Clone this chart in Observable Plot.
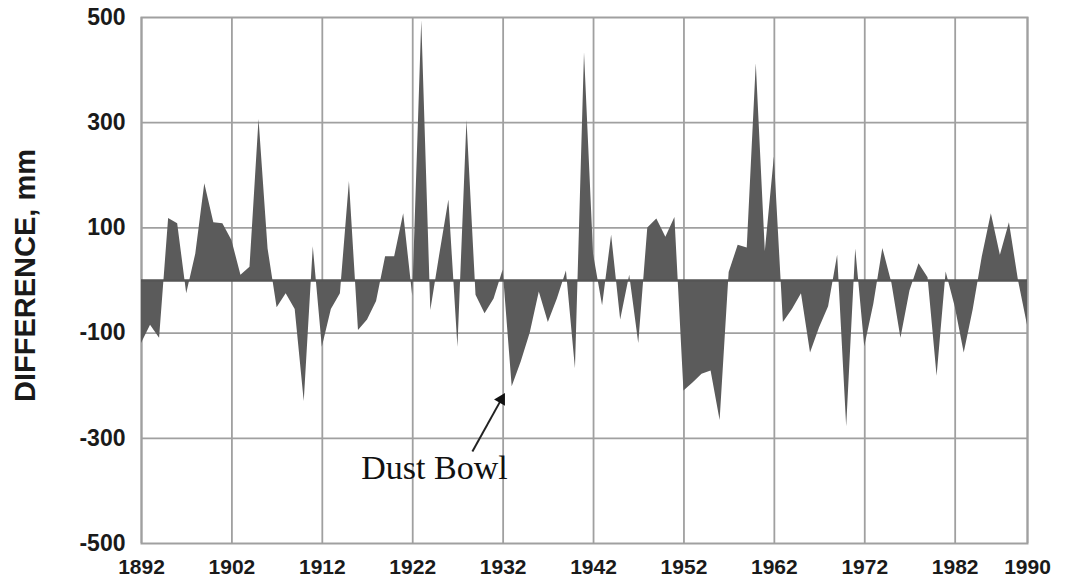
<!DOCTYPE html>
<html>
<head>
<meta charset="utf-8">
<script src="https://cdn.jsdelivr.net/npm/d3@7"></script>
<script src="https://cdn.jsdelivr.net/npm/@observablehq/plot@0.6"></script>
<style>
  html, body { margin: 0; padding: 0; background: #ffffff; }
  #chart svg { display: block; }
</style>
</head>
<body>
<div id="chart"></div>
<script>
// ---- Data ----
const firstYear = 1892;
const differences = [
  -120, -85, -110, 118, 108, -25, 50, 184,            // 1892-1899
  110, 108, 76, 10, 25, 306, 60, -52, -25, -55,       // 1900-1909
  -230, 64, -127, -55, -25, 188, -95, -75, -40, 45,   // 1910-1919
  45, 127, -30, 494, -57, 50, 153, -127, 304, -28,    // 1920-1929
  -63, -35, 20, -202, -155, -100, -22, -80, -35, 18,  // 1930-1939
  -168, 433, 50, -48, 86, -75, 10, -120, 100, 117,    // 1940-1949
  82, 120, -210, -195, -178, -172, -266, 15, 67, 62,  // 1950-1959
  412, 55, 235, -80, -55, -25, -138, -90, -50, 48,    // 1960-1969
  -278, 60, -126, -45, 61, -5, -110, -20, 32, 5,      // 1970-1979
  -182, 16, -50, -138, -55, 45, 127, 48, 110, 0,      // 1980-1989
  -85                                                 // 1990
];
const xTickYears = [1892, 1902, 1912, 1922, 1932, 1942, 1952, 1962, 1972, 1982, 1990];
const yTickValues = [-500, -300, -100, 100, 300, 500];
const yGridValues = [-300, -100, 100, 300];
const yTitle = "DIFFERENCE, mm";
const noteText = ["Dust Bowl"];
const noteTextYear = [1924.4];
const noteTextValue = [-357];
const arrowTailYear = [1928.6];
const arrowTailValue = [-325];
const arrowHeadYear = [1931.8];
const arrowHeadValue = [-226];

// ---- Build tables ----
const series = differences.map((v, i) => ({year: firstYear + i, value: v}));
const note = noteText.map((t, i) => ({label: t, year: noteTextYear[i], value: noteTextValue[i]}));
const arrow = arrowTailYear.map((t, i) => ({
  x1: t, y1: arrowTailValue[i], x2: arrowHeadYear[i], y2: arrowHeadValue[i]
}));

const gridColor = "#a0a0a0";
const fillColor = "#5b5b5b";
const sans = "'Liberation Sans', Arial, Helvetica, sans-serif";

const chart = Plot.plot({
  width: 1071,
  height: 587,
  marginLeft: 141,
  marginRight: 44,
  marginTop: 17,
  marginBottom: 44,
  style: {fontFamily: sans, background: "#ffffff", color: "#1a1a1a"},
  x: {domain: [1892, 1990]},
  y: {domain: [-500, 500]},
  marks: [
    Plot.ruleX(xTickYears, {stroke: gridColor, strokeWidth: 1.8}),
    Plot.ruleY(yGridValues, {stroke: gridColor, strokeWidth: 1.8}),
    Plot.frame({stroke: gridColor, strokeWidth: 2}),
    Plot.areaY(series, {x: "year", y: "value", fill: fillColor, curve: "linear"}),
    Plot.ruleY([0], {stroke: "#555555", strokeWidth: 2.5}),
    Plot.axisX(xTickYears, {
      tickSize: 0, tickPadding: 16, fontSize: 21, fontWeight: "bold",
      label: null, tickFormat: d => `${d}`
    }),
    Plot.axisY(yTickValues, {
      tickSize: 0, tickPadding: 16, fontSize: 23, fontWeight: "bold",
      label: null, tickFormat: d => `${d}`
    }),
    Plot.text([yTitle], {
      frameAnchor: "left", rotate: -90, dx: -116, dy: -5,
      fontSize: 29, fontWeight: "bold", fill: "#1a1a1a", textAnchor: "middle"
    }),
    Plot.link(arrow, {x1: "x1", y1: "y1", x2: "x2", y2: "y2", stroke: "#222", strokeWidth: 2}),
    Plot.dot(arrow, {x: "x2", y: "y2", symbol: "triangle2", r: 6, rotate: 30, fill: "#111", stroke: "none"}),
    Plot.text(note, {
      x: "year", y: "value", text: "label",
      fontFamily: "'Liberation Serif', 'Times New Roman', serif",
      fontSize: 34, fill: "#111", textAnchor: "middle"
    })
  ]
});
document.getElementById("chart").appendChild(chart);
</script>
</body>
</html>
